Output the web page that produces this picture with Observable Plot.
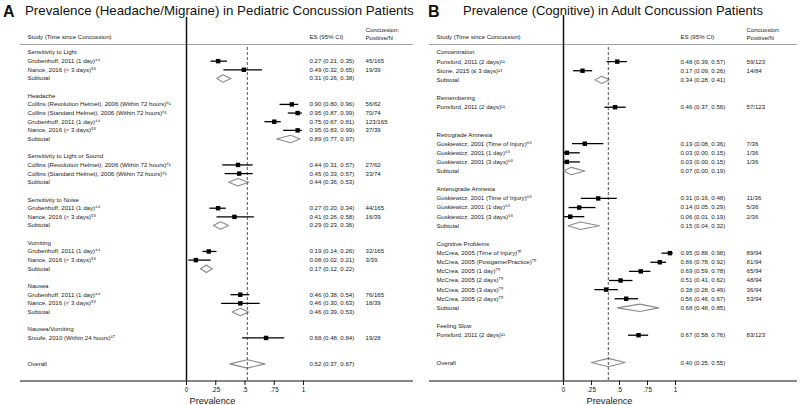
<!DOCTYPE html>
<html><head><meta charset="utf-8">
<script src="https://cdn.jsdelivr.net/npm/d3@7"></script>
<script src="https://cdn.jsdelivr.net/npm/@observablehq/plot@0.6"></script>
<style>
body{margin:0;background:#fff;font-family:"Liberation Sans",Arial,sans-serif;}
#wrap{position:relative;width:800px;height:405px;overflow:hidden;background:#fff;}
.panel{position:absolute;top:0;}
.lbl{position:absolute;font-weight:bold;font-size:16px;line-height:16px;color:#111;}
.ttl{position:absolute;line-height:14px;color:#111;white-space:nowrap;}
</style></head><body>
<div id="wrap">
  <div id="pa" class="panel" style="left:0px"></div>
  <div id="pb" class="panel" style="left:400px"></div>
  <div class="lbl" style="left:3px;top:4px">A</div>
  <div class="ttl" style="left:25px;top:4px;font-size:13.3px">Prevalence (Headache/Migraine) in Pediatric Concussion Patients</div>
  <div class="lbl" style="left:428px;top:4px">B</div>
  <div class="ttl" style="left:463px;top:4px;font-size:13px">Prevalence (Cognitive) in Adult Concussion Patients</div>
</div>
<script>
// ---------- Panel A data ----------
const aGroups = ["Sensitivity to Light", "Headache", "Sensitivity to Light or Sound", "Sensitivity to Noise", "Vomiting", "Nausea", "Nausea/Vomiting"];
const aStudyGroup = [0, 0, 1, 1, 1, 1, 2, 2, 3, 3, 4, 4, 5, 5, 6];
const aStudies = [
  "Grubenhoff, 2011 (1 day)⁴⁴", "Nance, 2016 (< 3 days)⁵⁸",
  "Collins (Revolution Helmet), 2006 (Within 72 hours)⁶¹", "Collins (Standard Helmet), 2006 (Within 72 hours)⁶¹", "Grubenhoff, 2011 (1 day)⁴⁴", "Nance, 2016 (< 3 days)⁵⁸",
  "Collins (Revolution Helmet), 2006 (Within 72 hours)⁶¹", "Collins (Standard Helmet), 2006 (Within 72 hours)⁶¹",
  "Grubenhoff, 2011 (1 day)⁴⁴", "Nance, 2016 (< 3 days)⁵⁸",
  "Grubenhoff, 2011 (1 day)⁴⁴", "Nance, 2016 (< 3 days)⁵⁸",
  "Grubenhoff, 2011 (1 day)⁴⁴", "Nance, 2016 (< 3 days)⁵⁸",
  "Sroufe, 2010 (Within 24 hours)⁶⁷"];
const aES = [0.27, 0.49, 0.90, 0.95, 0.75, 0.95, 0.44, 0.45, 0.27, 0.41, 0.19, 0.08, 0.46, 0.46, 0.68];
const aLo = [0.21, 0.32, 0.80, 0.87, 0.67, 0.83, 0.31, 0.33, 0.20, 0.26, 0.14, 0.02, 0.38, 0.30, 0.48];
const aHi = [0.35, 0.65, 0.96, 0.99, 0.81, 0.99, 0.57, 0.57, 0.34, 0.58, 0.26, 0.21, 0.54, 0.63, 0.84];
const aPosN = ["45/165", "19/39", "56/62", "70/74", "123/165", "37/39", "27/62", "33/74", "44/165", "16/39", "32/165", "3/39", "76/165", "18/39", "19/28"];
const aSubES = [0.31, 0.89, 0.44, 0.29, 0.17, 0.46, null];
const aSubLo = [0.26, 0.77, 0.36, 0.23, 0.12, 0.39, null];
const aSubHi = [0.38, 0.97, 0.53, 0.36, 0.22, 0.53, null];
const aOverall = [0.52, 0.37, 0.67];

// ---------- Panel B data ----------
const bGroups = ["Concentration", "Remembering", "Retrograde Amnesia", "Anterograde Amnesia", "Cognitive Problems", "Feeling Slow"];
const bStudyGroup = [0, 0, 1, 2, 2, 2, 3, 3, 3, 4, 4, 4, 4, 4, 4, 5];
const bStudies = [
  "Ponsford, 2011 (2 days)¹¹", "Stone, 2015 (≤ 3 days)¹³",
  "Ponsford, 2011 (2 days)¹¹",
  "Guskiewicz, 2001 (Time of Injury)⁶⁸", "Guskiewicz, 2001 (1 day)⁶⁸", "Guskiewicz, 2001 (3 days)⁶⁸",
  "Guskiewicz, 2001 (Time of Injury)⁶⁸", "Guskiewicz, 2001 (1 day)⁶⁸", "Guskiewicz, 2001 (3 days)⁶⁸",
  "McCrea, 2005 (Time of Injury)⁷⁰", "McCrea, 2005 (Postgame/Practice)⁷⁰", "McCrea, 2005 (1 day)⁷⁰", "McCrea, 2005 (2 days)⁷⁰", "McCrea, 2005 (3 days)⁷⁰", "McCrea, 2005 (2 days)⁷⁰",
  "Ponsford, 2011 (2 days)¹¹"];
const bES = [0.48, 0.17, 0.46, 0.19, 0.03, 0.03, 0.31, 0.14, 0.06, 0.95, 0.86, 0.69, 0.51, 0.38, 0.56, 0.67];
const bLo = [0.39, 0.09, 0.37, 0.08, 0.00, 0.00, 0.16, 0.05, 0.01, 0.88, 0.78, 0.59, 0.41, 0.28, 0.46, 0.58];
const bHi = [0.57, 0.26, 0.56, 0.36, 0.15, 0.15, 0.48, 0.29, 0.19, 0.98, 0.92, 0.78, 0.62, 0.49, 0.67, 0.76];
const bPosN = ["59/123", "14/84", "57/123", "7/36", "1/36", "1/36", "11/36", "5/36", "2/36", "89/94", "81/94", "65/94", "48/94", "36/94", "53/94", "83/123"];
const bSubES = [0.34, null, 0.07, 0.15, 0.68, null];
const bSubLo = [0.28, null, 0.00, 0.04, 0.48, null];
const bSubHi = [0.41, null, 0.19, 0.32, 0.85, null];
const bOverall = [0.40, 0.25, 0.55];

// ---------- shared labels ----------
const tickValues = [0, 0.25, 0.5, 0.75, 1];
const tickLabels = ["0", ".25", ".5", ".75", "1"];
const headStudy = "Study (Time since Concussion)";
const headES = "ES (95% CI)";
const headN1 = "Concussion:";
const headN2 = "Positive/N";
const axisTitle = "Prevalence";

const fmt = (e, l, h) => `${e.toFixed(2)} (${l.toFixed(2)}, ${h.toFixed(2)})`;

function buildRows(groups, gIdx, names, es, lo, hi, posn, sES, sLo, sHi, overall) {
  const labels = [], studies = [], summaries = [];
  let r = 0;
  groups.forEach((g, gi) => {
    labels.push({r, text: g}); r++;
    names.forEach((n, i) => {
      if (gIdx[i] === gi) { studies.push({r, text: n, es: es[i], lo: lo[i], hi: hi[i], posn: posn[i]}); r++; }
    });
    if (sES[gi] != null) summaries.push({r, text: "Subtotal", es: sES[gi], lo: sLo[gi], hi: sHi[gi], big: false});
    r += 2;
  });
  summaries.push({r, text: "Overall", es: overall[0], lo: overall[1], hi: overall[2], big: true});
  return {labels, studies, summaries};
}

function panel(rows, L) {
  const px2x = p => (p - L.x0) / (L.x1 - L.x0);
  const py2r = p => (p - L.y0) / L.step;
  const halfH = 3.7 / L.step;
  const diamonds = [];
  rows.summaries.forEach((s, k) => {
    const h = s.big ? 4.2 / L.step : halfH;
    diamonds.push({id: k, x: s.lo, y: s.r}, {id: k, x: s.es, y: s.r - h}, {id: k, x: s.hi, y: s.r}, {id: k, x: s.es, y: s.r + h});
  });
  const overallES = rows.summaries[rows.summaries.length - 1].es;
  const textAll = [...rows.labels, ...rows.studies, ...rows.summaries];
  const fs = 6.1, col = "#1a1a1a";
  return Plot.plot({
    width: L.W, height: 405,
    marginLeft: L.x0, marginRight: L.W - L.x1, marginTop: L.vTop, marginBottom: 405 - L.axisY,
    x: {domain: [0, 1], ticks: tickValues, tickFormat: d => tickLabels[tickValues.indexOf(d)], tickSize: 4.5, tickPadding: 2, label: null},
    y: {domain: [py2r(L.vTop), py2r(L.axisY)], reverse: true, axis: null},
    style: {background: "transparent", fontFamily: "'Liberation Sans', Arial, sans-serif", fontSize: "6.3px", color: "#111", overflow: "visible"},
    marks: [
      Plot.ruleY([py2r(44)], {x1: px2x(L.lineL), x2: px2x(L.lineR), stroke: "#9a9a9a", strokeWidth: 0.9}),
      Plot.ruleY([py2r(L.axisY)], {x1: px2x(L.lineL), x2: px2x(L.lineR), stroke: "#111", strokeWidth: 1.2}),
      Plot.ruleX([0], {stroke: "#111", strokeWidth: 1.5}),
      Plot.line(diamonds, {x: "x", y: "y", z: "id", stroke: "#8a8a8a", strokeWidth: 1.1, curve: "linear-closed", fill: "none"}),
      Plot.ruleX([overallES], {y1: py2r(47), y2: py2r(L.axisY), stroke: "#555", strokeWidth: 1, strokeDasharray: "3,2"}),
      Plot.ruleY(rows.studies, {y: "r", x1: "lo", x2: "hi", stroke: "#000", strokeWidth: 1.3}),
      Plot.dot(rows.studies, {x: "es", y: "r", symbol: "square", fill: "#000", r: 2.5}),
      Plot.text(textAll, {y: "r", text: "text", frameAnchor: "left", dx: L.colStudy - L.x0, textAnchor: "start", fontSize: fs, fill: col}),
      Plot.text([...rows.studies, ...rows.summaries], {y: "r", text: d => fmt(d.es, d.lo, d.hi), frameAnchor: "left", dx: L.colES - L.x0, textAnchor: "start", fontSize: fs, fill: col}),
      Plot.text(rows.studies, {y: "r", text: "posn", frameAnchor: "left", dx: L.colN - L.x0, textAnchor: "start", fontSize: fs, fill: col}),
      Plot.text([headStudy], {text: d => d, frameAnchor: "top-left", dx: L.colStudy - L.x0, dy: 34 - L.vTop, textAnchor: "start", fontSize: fs, fill: col}),
      Plot.text([headES], {text: d => d, frameAnchor: "top-left", dx: L.colES - L.x0, dy: 34 - L.vTop, textAnchor: "start", fontSize: fs, fill: col}),
      Plot.text([headN1], {text: d => d, frameAnchor: "top-left", dx: L.colN - L.x0, dy: 27 - L.vTop, textAnchor: "start", fontSize: fs, fill: col}),
      Plot.text([headN2], {text: d => d, frameAnchor: "top-left", dx: L.colN - L.x0, dy: 35 - L.vTop, textAnchor: "start", fontSize: fs, fill: col}),
      Plot.text([axisTitle], {text: d => d, frameAnchor: "bottom-left", dx: L.titleX - L.x0, dy: 19.8, textAnchor: "start", lineAnchor: "middle", fontSize: 9.2, fill: col})
    ]
  });
}

const rowsA = buildRows(aGroups, aStudyGroup, aStudies, aES, aLo, aHi, aPosN, aSubES, aSubLo, aSubHi, aOverall);
const rowsB = buildRows(bGroups, bStudyGroup, bStudies, bES, bLo, bHi, bPosN, bSubES, bSubLo, bSubHi, bOverall);

document.getElementById("pa").append(panel(rowsA, {W: 420, x0: 186, x1: 303, y0: 52, step: 8.65, vTop: 17, axisY: 380.5, lineL: 20, lineR: 413, colStudy: 27, colES: 309, colN: 365, titleX: 189}));
document.getElementById("pb").append(panel(rowsB, {W: 400, x0: 163, x1: 275, y0: 52, step: 9.12, vTop: 15, axisY: 380.5, lineL: 29, lineR: 397, colStudy: 36, colES: 280, colN: 346, titleX: 186}));
</script>
</body></html>
